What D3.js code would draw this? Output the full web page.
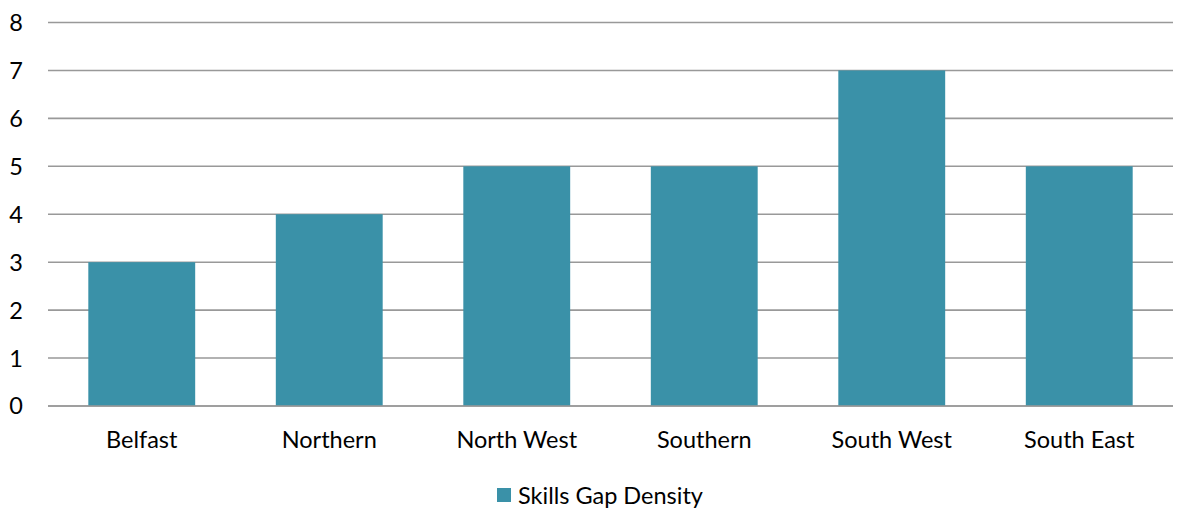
<!DOCTYPE html>
<html><head><meta charset="utf-8">
<script src="https://cdn.jsdelivr.net/npm/d3@7"></script>
<style>body{margin:0;background:#fff}svg{display:block}text{font-family:Lato,"Open Sans",sans-serif;fill:#000}</style>
</head><body><svg id="c" width="1178" height="514"></svg>
<script>
const categories = ["Belfast","Northern","North West","Southern","South West","South East"];
const values = [3,4,5,5,7,5];
const yTicks = [0,1,2,3,4,5,6,7,8];
const seriesName = "Skills Gap Density";

(function(){
const svg = d3.select("#c");
const mLeft = 48, mRight = 1173, mTop = 22.5, mBottom = 406;
const x = d3.scaleBand().domain(categories).range([mLeft, mRight]).paddingInner(0.43).paddingOuter(0.215);
const y = d3.scaleLinear().domain([0,8]).range([mBottom, mTop]);

svg.append("g").selectAll("line").data(yTicks).join("line")
  .attr("x1", mLeft).attr("x2", mRight)
  .attr("y1", d => y(d)).attr("y2", d => y(d))
  .attr("stroke", "#999").attr("stroke-width", 1.6);

svg.append("g").selectAll("rect").data(values).join("rect")
  .attr("x", (d,i) => x(categories[i]))
  .attr("width", x.bandwidth())
  .attr("y", d => y(d))
  .attr("height", d => y(0) - y(d))
  .attr("fill", "#3a91a8");

svg.append("line").attr("x1", mLeft).attr("x2", mRight).attr("y1", y(0)).attr("y2", y(0))
  .attr("stroke", "#999").attr("stroke-width", 1.6);

svg.append("g").selectAll("text").data(yTicks).join("text")
  .attr("x", 23).attr("y", d => y(d)).attr("dy", "0.36em")
  .attr("text-anchor", "end").attr("font-size", 23.5).text(d => d);

svg.append("g").selectAll("text").data(categories).join("text")
  .attr("x", d => x(d) + x.bandwidth()/2).attr("y", 448)
  .attr("text-anchor", "middle").attr("font-size", 23.5).text(d => d);

const lg = svg.append("g");
lg.append("rect").attr("x", 497).attr("y", 488).attr("width", 14).attr("height", 14).attr("fill", "#3a91a8");
lg.append("text").attr("x", 518).attr("y", 504).attr("font-size", 23.5).text(seriesName);
})();
</script></body></html>
